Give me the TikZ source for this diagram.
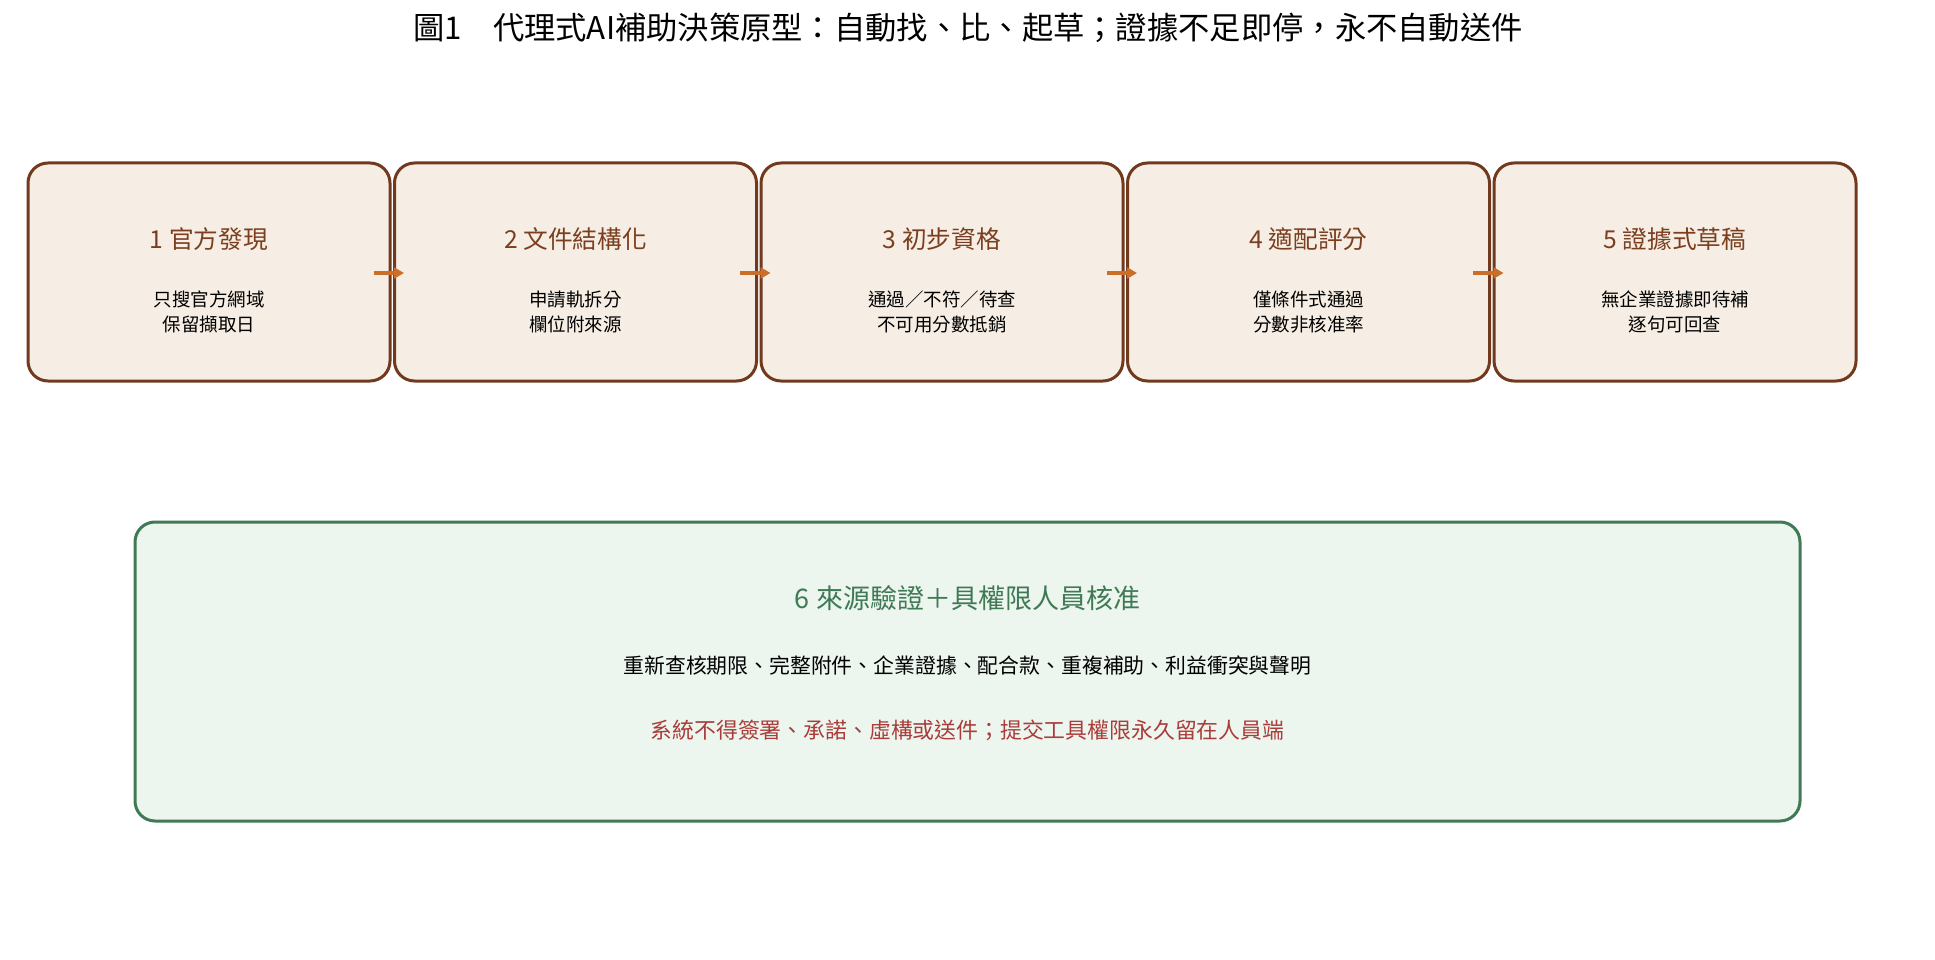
\documentclass[tikz,border=0pt]{standalone}
\usepackage{fontspec}
\setmainfont{Noto Sans CJK TC}
\usetikzlibrary{arrows.meta,positioning}

\definecolor{stepfill}{HTML}{F6EEE4}
\definecolor{stepline}{HTML}{713A1E}
\definecolor{steptext}{HTML}{7B3F1F}
\definecolor{flowcol}{HTML}{CB6E2A}
\definecolor{checkfill}{HTML}{ECF5EE}
\definecolor{checkline}{HTML}{3F7A55}
\definecolor{warncol}{HTML}{AA3C3A}

\tikzset{
    stepbox/.style = {draw = stepline, fill = stepfill, line width = 3pt, rounded corners = 20pt,
        minimum width = 362pt, minimum height = 218pt, inner sep = 0pt},
    steptitle/.style = {text = steptext, font = \fontsize{24.7}{30}\selectfont, inner sep = 0pt},
    stepnote/.style = {align = center, font = \fontsize{18.5}{24.6}\selectfont, inner sep = 0pt},
    checkbox/.style = {draw = checkline, fill = checkfill, line width = 3pt, rounded corners = 20pt,
        minimum width = 1665pt, minimum height = 299pt, inner sep = 0pt},
    flowarrow/.style = {draw = flowcol, line width = 4pt, -{Triangle[length = 10pt, width = 11pt]}}
}

\begin{document}
\begin{tikzpicture}[x = 1pt, y = -1pt]
    \useasboundingbox (0,0) rectangle (1935,960);

    % title
    \node (title) at (968,27.5) {\fontsize{31.3}{36}\selectfont 圖1　代理式AI補助決策原型：自動找、比、起草；證據不足即停，永不自動送件};

    % the five steps
    \node [stepbox] (s1) at (209,272) {};
    \node [stepbox, right = 1.5pt of s1] (s2) {};
    \node [stepbox, right = 1.5pt of s2] (s3) {};
    \node [stepbox, right = 1.5pt of s3] (s4) {};
    \node [stepbox, right = 1.5pt of s4] (s5) {};

    \node [steptitle] (t1) at ([yshift = 32.5pt]s1.center) {1 官方發現};
    \node [steptitle] (t2) at ([yshift = 32.5pt]s2.center) {2 文件結構化};
    \node [steptitle] (t3) at ([yshift = 32.5pt]s3.center) {3 初步資格};
    \node [steptitle] (t4) at ([yshift = 32.5pt]s4.center) {4 適配評分};
    \node [steptitle] (t5) at ([yshift = 32.5pt]s5.center) {5 證據式草稿};

    \node [stepnote] (n1) at ([yshift = -40pt]s1.center) {只搜官方網域\\保留擷取日};
    \node [stepnote] (n2) at ([yshift = -40pt]s2.center) {申請軌拆分\\欄位附來源};
    \node [stepnote] (n3) at ([yshift = -40pt]s3.center) {通過／不符／待查\\不可用分數抵銷};
    \node [stepnote] (n4) at ([yshift = -40pt]s4.center) {僅條件式通過\\分數非核准率};
    \node [stepnote] (n5) at ([yshift = -40pt]s5.center) {無企業證據即待補\\逐句可回查};

    \draw [flowarrow] ([xshift = -18pt, yshift = -1pt]s1.east) -- ([xshift = 11pt, yshift = -1pt]s2.west);
    \draw [flowarrow] ([xshift = -18pt, yshift = -1pt]s2.east) -- ([xshift = 11pt, yshift = -1pt]s3.west);
    \draw [flowarrow] ([xshift = -18pt, yshift = -1pt]s3.east) -- ([xshift = 11pt, yshift = -1pt]s4.west);
    \draw [flowarrow] ([xshift = -18pt, yshift = -1pt]s4.east) -- ([xshift = 11pt, yshift = -1pt]s5.west);

    % human check
    \node [checkbox] (check) at (967.5,671.5) {};
    \node [text = checkline, font = \fontsize{27}{32}\selectfont, inner sep = 0pt] (ctitle) at (967.5,598) {6 來源驗證＋具權限人員核准};
    \node [font = \fontsize{20.85}{26}\selectfont, inner sep = 0pt] (cnote) at (967.5,666) {重新查核期限、完整附件、企業證據、配合款、重複補助、利益衝突與聲明};
    \node [text = warncol, font = \fontsize{21.85}{26}\selectfont, inner sep = 0pt] (cwarn) at (967.5,730) {系統不得簽署、承諾、虛構或送件；提交工具權限永久留在人員端};
\end{tikzpicture}
\end{document}
